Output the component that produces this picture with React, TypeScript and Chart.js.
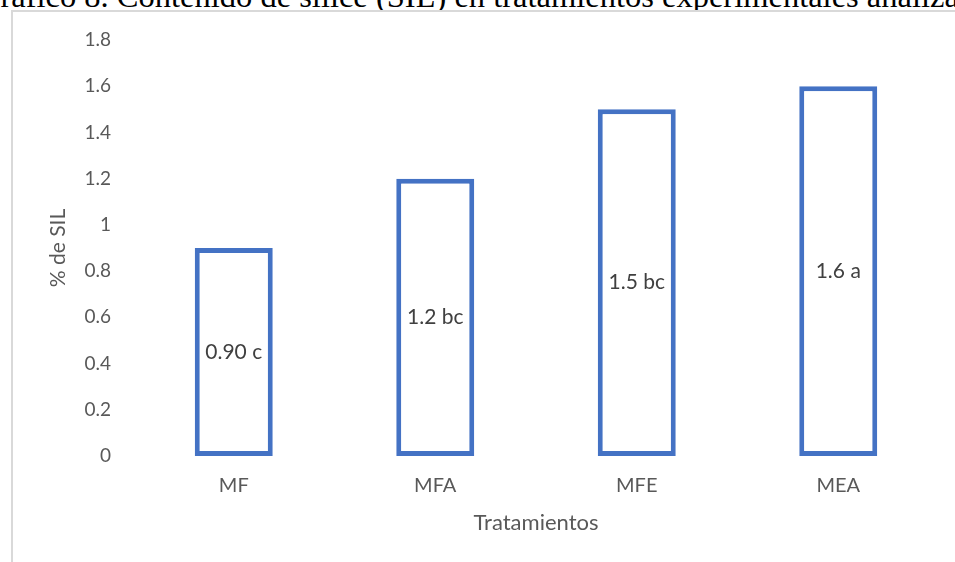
import React, { useEffect, useRef } from "react";
import { Chart, registerables } from "chart.js";

Chart.register(...registerables);

const chartTitle =
  "Gráfico 8. Contenido de sílice (SIL) en tratamientos experimentales analizados";
const categories = ["MF", "MFA", "MFE", "MEA"];
const values = [0.9, 1.2, 1.5, 1.6];
const valueLabels = ["0.90 c", "1.2 bc", "1.5 bc", "1.6 a"];
const yTicks = [0, 0.2, 0.4, 0.6, 0.8, 1, 1.2, 1.4, 1.6, 1.8];
const yTickLabels = ["0", "0.2", "0.4", "0.6", "0.8", "1", "1.2", "1.4", "1.6", "1.8"];
const xTitle = "Tratamientos";
const yTitle = "% de SIL";

const FONT = "Lato, 'Open Sans', sans-serif";
const BAR_BLUE = "#4472C4";
const AXIS_GRAY = "#595959";
const LABEL_GRAY = "#404040";

const barLabelsPlugin = {
  id: "barLabels",
  afterDatasetsDraw(chart: any) {
    const ctx = chart.ctx;
    const meta = chart.getDatasetMeta(0);
    ctx.save();
    ctx.font = `21px ${FONT}`;
    ctx.fillStyle = LABEL_GRAY;
    ctx.textAlign = "center";
    ctx.textBaseline = "middle";
    meta.data.forEach((bar: any, i: number) => {
      const { x, y, base } = bar.getProps(["x", "y", "base"], true);
      ctx.fillText(valueLabels[i], x, (y + base) / 2);
    });
    ctx.restore();
  },
};

export default function App() {
  const canvasRef = useRef<HTMLCanvasElement | null>(null);

  useEffect(() => {
    if (!canvasRef.current) return;
    const chart = new Chart(canvasRef.current, {
      type: "bar",
      data: {
        labels: categories,
        datasets: [
          {
            data: values,
            backgroundColor: "#ffffff",
            borderColor: BAR_BLUE,
            borderWidth: 5,
            borderSkipped: false,
            barPercentage: 0.387,
            categoryPercentage: 1,
          },
        ],
      },
      options: {
        responsive: false,
        animation: false,
        devicePixelRatio: 1,
        layout: { padding: { top: 40, right: 16, bottom: 10, left: 40 } },
        plugins: {
          legend: { display: false },
          tooltip: { enabled: false },
          title: { display: false },
        },
        scales: {
          x: {
            grid: { display: false, drawTicks: false },
            border: { display: false },
            ticks: {
              color: AXIS_GRAY,
              font: { family: FONT, size: 20 },
              padding: 18,
              maxRotation: 0,
            },
            title: {
              display: true,
              text: xTitle,
              color: AXIS_GRAY,
              font: { family: FONT, size: 22 },
              padding: { top: 0, bottom: 16 },
            },
            afterFit(scale: any) {
              scale.height = 562 - 456 - 10;
            },
          },
          y: {
            min: 0,
            max: 1.8,
            grid: { display: false, drawTicks: false },
            border: { display: false },
            afterBuildTicks(scale: any) {
              scale.ticks = yTicks.map((v) => ({ value: v }));
            },
            ticks: {
              color: AXIS_GRAY,
              font: { family: FONT, size: 19 },
              padding: 22,
              callback: (_v: any, i: number) => yTickLabels[i],
            },
            title: {
              display: true,
              text: yTitle,
              color: AXIS_GRAY,
              font: { family: FONT, size: 21 },
              padding: { top: 6, bottom: 0 },
            },
            afterFit(scale: any) {
              scale.width = 133 - 40;
            },
          },
        },
      },
      plugins: [barLabelsPlugin],
    });
    return () => chart.destroy();
  }, []);

  return (
    <div
      style={{
        position: "fixed",
        left: 0,
        top: 0,
        width: 955,
        height: 562,
        overflow: "hidden",
        background: "#ffffff",
      }}
    >
      <div
        style={{
          position: "absolute",
          left: -23,
          top: -20,
          whiteSpace: "nowrap",
          fontFamily: "'Liberation Serif', 'Times New Roman', serif",
          fontSize: 32.5,
          lineHeight: "32px",
          color: "#000000",
        }}
      >
        {chartTitle}
      </div>
      <div
        style={{
          position: "absolute",
          left: 11,
          top: 10,
          width: 1000,
          height: 620,
          border: "2px solid #d9d9d9",
          background: "#ffffff",
        }}
      />
      <canvas
        ref={canvasRef}
        width={955}
        height={562}
        style={{ position: "absolute", left: 0, top: 0, width: 955, height: 562 }}
      />
    </div>
  );
}
